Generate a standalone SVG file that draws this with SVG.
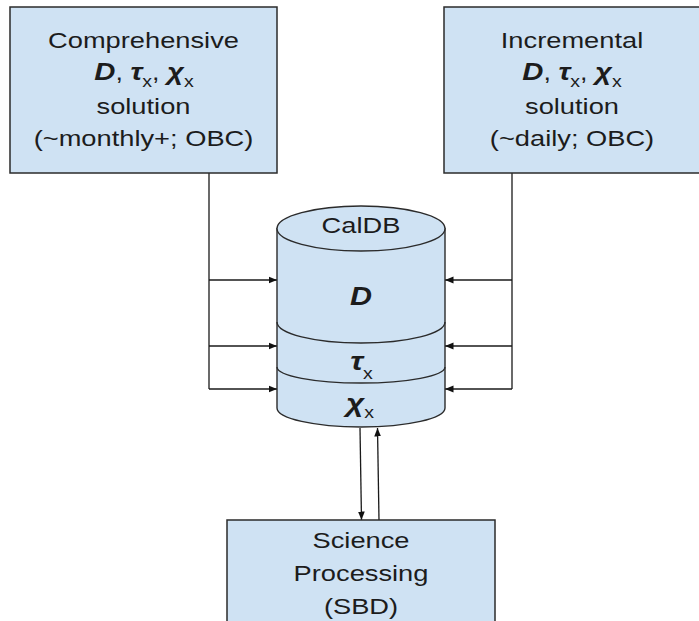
<svg xmlns="http://www.w3.org/2000/svg" width="699" height="621" viewBox="0 0 699 621">
  <defs>
    <marker id="arrow" markerWidth="9" markerHeight="8" refX="8.5" refY="4" orient="auto" markerUnits="userSpaceOnUse">
      <path d="M0,0.6 L8.5,4 L0,7.4 Z" fill="#111"/>
    </marker>
    <style>
      .box { fill: #cfe2f3; stroke: #2b2b2b; stroke-width: 1.5; }
      .db { fill: #cfe2f3; stroke: #2b2b2b; stroke-width: 1.4; }
      .arc { fill: none; stroke: #2b2b2b; stroke-width: 1.4; }
      .wire { fill: none; stroke: #1a1a1a; stroke-width: 1.3; }
      .lbl { font-family: "Liberation Sans", Arial, sans-serif; font-size: 22px; fill: #1c1c1c; text-anchor: middle; }
      .sym { font-weight: bold; font-style: italic; }
      .gk { font-size: 24px; }
      .big { font-size: 26px; }
      .sub { font-size: 16px; font-weight: normal; font-style: normal; }
    </style>
  </defs>

  <rect width="699" height="621" fill="#ffffff"/>

  <!-- connectors -->
  <g id="connectors">
    <!-- feed from the comprehensive solution -->
    <path class="wire" d="M209,173 V389"/>
    <path class="wire" d="M209,280 H277" marker-end="url(#arrow)"/>
    <path class="wire" d="M209,346 H277" marker-end="url(#arrow)"/>
    <path class="wire" d="M209,389 H277" marker-end="url(#arrow)"/>
    <!-- feed from the incremental solution -->
    <path class="wire" d="M512,173 V389"/>
    <path class="wire" d="M512,280 H445" marker-end="url(#arrow)"/>
    <path class="wire" d="M512,346 H445" marker-end="url(#arrow)"/>
    <path class="wire" d="M512,389 H445" marker-end="url(#arrow)"/>
    <!-- CalDB <-> science processing -->
    <path class="wire" d="M360,428 L361.5,520" marker-end="url(#arrow)"/>
    <path class="wire" d="M379,520 L377.5,428" marker-end="url(#arrow)"/>
  </g>

  <!-- comprehensive solution -->
  <g id="node-comprehensive">
    <rect class="box" x="10" y="7" width="267" height="166"/>
    <text class="lbl" transform="translate(143.5,48) scale(1.24,1)">Comprehensive</text>
    <text class="lbl" transform="translate(144,80) scale(1.22,1)"><tspan class="sym gk">D</tspan>, <tspan class="sym gk">τ</tspan><tspan class="sub" dy="7">x</tspan><tspan dy="-7">, </tspan><tspan class="sym gk">χ</tspan><tspan class="sub" dy="7">x</tspan></text>
    <text class="lbl" transform="translate(143.5,114) scale(1.24,1)">solution</text>
    <text class="lbl" transform="translate(143.5,146) scale(1.24,1)">(~monthly+; OBC)</text>
  </g>

  <!-- incremental solution -->
  <g id="node-incremental">
    <rect class="box" x="444" y="7" width="262" height="166"/>
    <text class="lbl" transform="translate(572,48) scale(1.24,1)">Incremental</text>
    <text class="lbl" transform="translate(572,80) scale(1.22,1)"><tspan class="sym gk">D</tspan>, <tspan class="sym gk">τ</tspan><tspan class="sub" dy="7">x</tspan><tspan dy="-7">, </tspan><tspan class="sym gk">χ</tspan><tspan class="sub" dy="7">x</tspan></text>
    <text class="lbl" transform="translate(572,114) scale(1.24,1)">solution</text>
    <text class="lbl" transform="translate(572,146) scale(1.24,1)">(~daily; OBC)</text>
  </g>

  <!-- calibration database cylinder -->
  <g id="node-caldb">
    <path class="db" d="M277,228.5 V408 A84,19 0 0 0 445,408 V228.5 Z"/>
    <ellipse class="db" cx="361" cy="228.5" rx="84" ry="22.5"/>
    <path class="arc" d="M277,322 A84,21 0 0 0 445,322"/>
    <path class="arc" d="M277,367 A84,16 0 0 0 445,367"/>
    <text class="lbl" transform="translate(361,233) scale(1.24,1)">CalDB</text>
    <text class="lbl" transform="translate(361,305) scale(1.22,1)"><tspan class="sym" style="font-size:25px">D</tspan></text>
    <text class="lbl" transform="translate(361.5,370) scale(1.22,1)"><tspan class="sym big">τ</tspan><tspan class="sub" dy="9">x</tspan></text>
    <text class="lbl" transform="translate(360,412) scale(1.22,1)"><tspan class="sym big">χ</tspan><tspan class="sub" dy="6">x</tspan></text>
  </g>

  <!-- science processing -->
  <g id="node-science">
    <rect class="box" x="227" y="520" width="268" height="110"/>
    <text class="lbl" transform="translate(361,548) scale(1.24,1)">Science</text>
    <text class="lbl" transform="translate(361,581) scale(1.24,1)">Processing</text>
    <text class="lbl" transform="translate(361,614) scale(1.24,1)">(SBD)</text>
  </g>
</svg>
